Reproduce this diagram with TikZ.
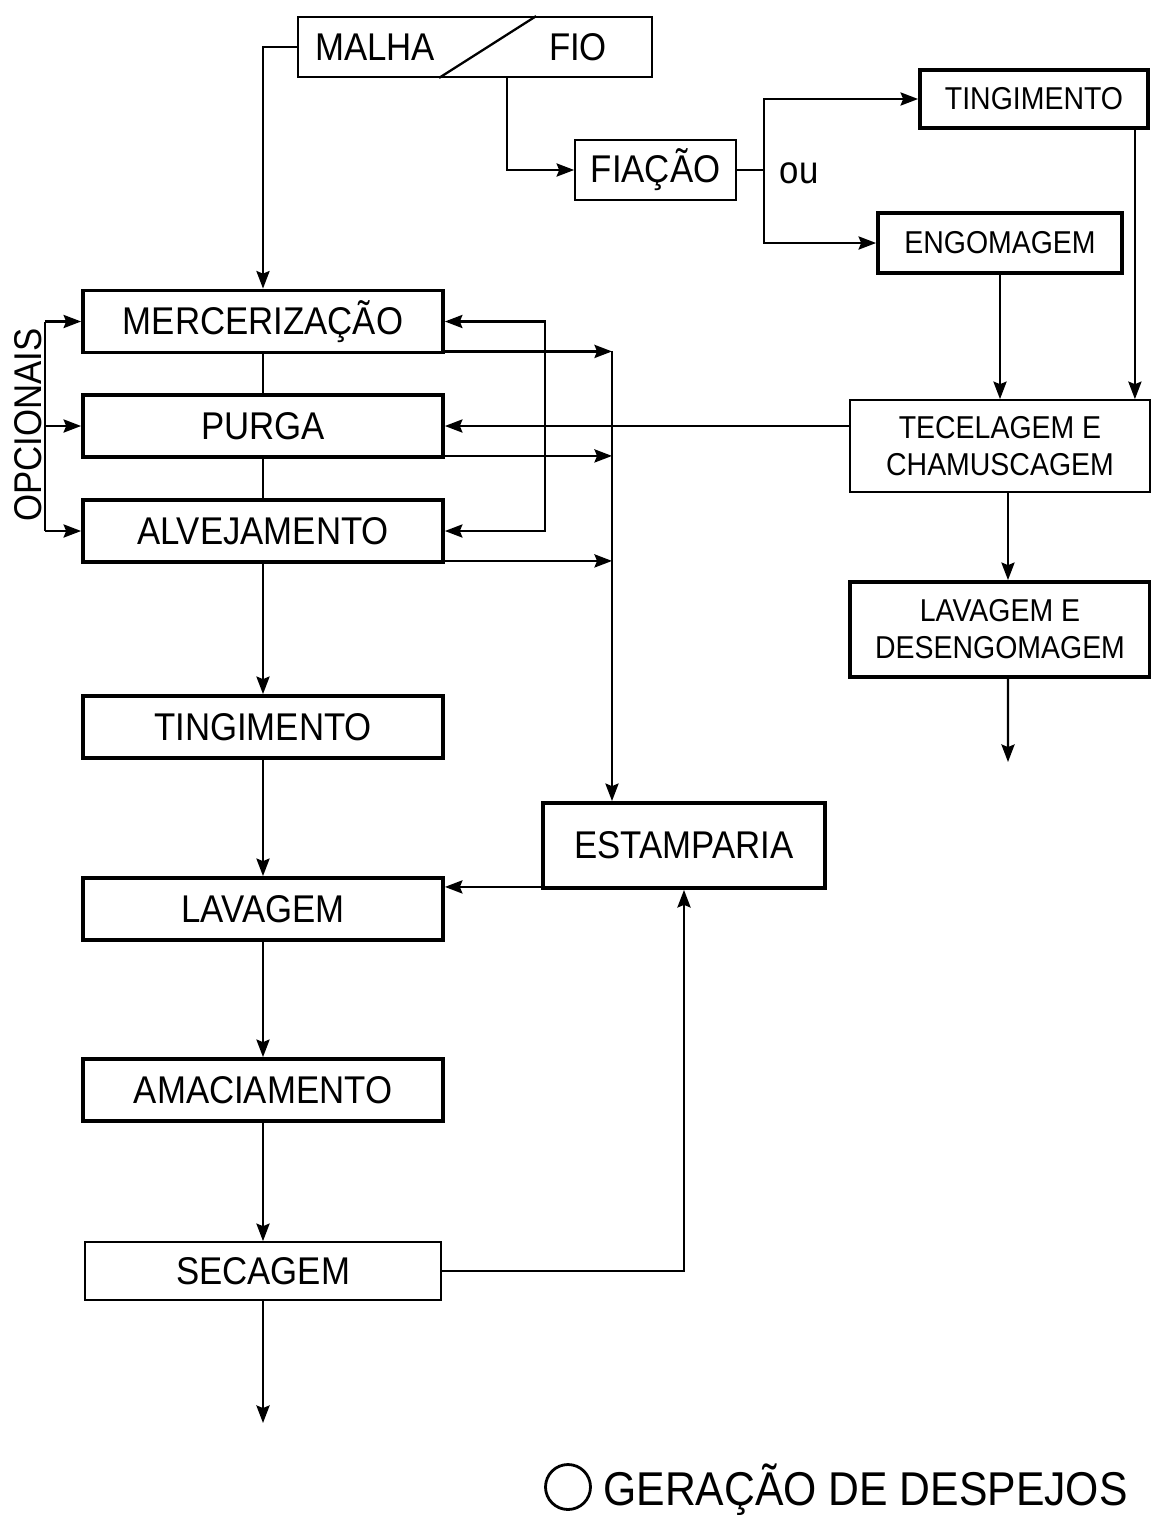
\documentclass[tikz,border=0pt]{standalone}
\usepackage{fontspec}
\setmainfont{Liberation Sans}[FakeStretch=0.9]
\usetikzlibrary{arrows.meta}
\begin{document}
\begin{tikzpicture}[x=0.02cm, y=-0.02cm,
  big/.style={font=\fontsize{22}{24}\selectfont},
  small/.style={font=\fontsize{18}{21}\selectfont, align=center},
  thickbox/.style={draw, line width=2.2pt, inner sep=0pt},
  thinbox/.style={draw, line width=1pt, inner sep=0pt},
  leftbox/.style={thickbox, big, minimum width=7.2cm, minimum height=1.24cm},
  conn/.style={line width=1.3pt},
  arr/.style={conn, -{Stealth[length=10pt,width=7.5pt,inset=1.5pt]}},
  arrboth/.style={conn, {Stealth[length=10pt,width=7.5pt,inset=1.5pt]}-{Stealth[length=10pt,width=7.5pt,inset=1.5pt]}}
]
\useasboundingbox (0,0) rectangle (1151,1515);

% raw material box split into knitted fabric / yarn
\node[thinbox, minimum width=7.08cm, minimum height=1.2cm] (malha) at (475,47) {};
\draw[line width=1.3pt] ([xshift=4.78cm]malha.north west) -- ([xshift=2.84cm]malha.south west);
\node[big] (tmalha) at (375,47) {MALHA};
\node[big] (tfio) at (578,47) {FIO};

% yarn route
\node[thinbox, big, minimum width=3.22cm, minimum height=1.2cm] (fiacao) at (655.5,170) {FIAÇÃO};
\node[thickbox, small, minimum width=4.56cm, minimum height=1.16cm] (tingR) at (1034,99) {TINGIMENTO};
\node[thickbox, small, minimum width=4.88cm, minimum height=1.2cm] (engom) at (1000,243) {ENGOMAGEM};
\node[thinbox, small, minimum width=6.0cm, minimum height=1.84cm] (tecel) at (1000,446) {TECELAGEM E\\CHAMUSCAGEM};
\node[thickbox, small, minimum width=6.0cm, minimum height=1.9cm] (lavdes) at (1000,629.5) {LAVAGEM E\\DESENGOMAGEM};
\node[big] (ou) at (799,173) {ou};

% main processing column
\node[leftbox] (merc) at (263,321.5) {MERCERIZAÇÃO};
\node[leftbox] (purga) at (263,426) {PURGA};
\node[leftbox] (alvej) at (263,531) {ALVEJAMENTO};
\node[leftbox] (tingL) at (263,727) {TINGIMENTO};
\node[leftbox] (lavag) at (263,909) {LAVAGEM};
\node[leftbox] (amac) at (263,1090) {AMACIAMENTO};
\node[thinbox, big, minimum width=7.12cm, minimum height=1.16cm] (secag) at (263,1271) {SECAGEM};
\node[thickbox, big, minimum width=5.64cm, minimum height=1.7cm] (estamp) at (684,845.5) {ESTAMPARIA};
\node[big, rotate=90] (opc) at (28,425) {OPCIONAIS};

% legend
\node[draw, circle, line width=1.6pt, minimum size=0.9cm, inner sep=0pt] (leg) at (568,1487) {};
\node[font=\fontsize{27}{30}\selectfont, anchor=west, inner sep=0pt] (legtxt) at (603,1490) {GERAÇÃO DE DESPEJOS};

% connectors: raw material
\draw[arr] (malha.west) -| (merc.north);
\draw[arr] ([xshift=4.2cm]malha.south west) |- (fiacao.west);
\coordinate (sp) at (764,170);
\draw[conn] (fiacao.east) -- (sp);
\draw[arr] (sp) |- (tingR.west);
\draw[arr] (sp) |- (engom.west);
\draw[arr] (engom.south) -- (engom.south |- tecel.north);
\coordinate (t1) at ([xshift=-0.3cm]tingR.south east);
\draw[arr] (t1) -- (t1 |- tecel.north);
\draw[arr] (tecel.west |- purga.east) -- (purga.east);
\draw[arr] ([xshift=0.16cm]tecel.south) -- ([xshift=0.16cm]lavdes.north);
\coordinate (endR) at (1008,762);
\draw[arr] ([xshift=0.16cm]lavdes.south) -- (endR);

% optional steps
\draw[conn] (merc.south) -- (purga.north);
\draw[conn] (purga.south) -- (alvej.north);
\coordinate (bl) at (45,0);
\draw[conn] (bl |- merc.west) -- (bl |- alvej.west);
\draw[arr] (bl |- merc.west) -- (merc.west);
\draw[arr] (bl |- purga.west) -- (purga.west);
\draw[arr] (bl |- alvej.west) -- (alvej.west);
\coordinate (rb) at (545,0);
\draw[arrboth] (merc.east) -- (rb |- merc.east) -- (rb |- alvej.east) -- (alvej.east);

% branches to printing
\coordinate (vx) at (612,0);
\coordinate (m1) at ([yshift=0.06cm]merc.south east);
\coordinate (p1) at ([yshift=0.06cm]purga.south east);
\coordinate (a1) at ([yshift=0.06cm]alvej.south east);
\draw[arr] (m1) -- (vx |- m1);
\draw[arr] (p1) -- (vx |- p1);
\draw[arr] (a1) -- (vx |- a1);
\draw[arr] (vx |- m1) -- (vx |- estamp.north);

% main sequence
\draw[arr] (alvej.south) -- (tingL.north);
\draw[arr] (tingL.south) -- (lavag.north);
\draw[arr] (lavag.south) -- (amac.north);
\draw[arr] (amac.south) -- (secag.north);
\coordinate (e1) at ([yshift=0.06cm]estamp.south west);
\draw[arr] (e1) -- (lavag.east |- e1);
\draw[arr] (secag.east) -| (estamp.south);
\coordinate (endL) at (263,1423);
\draw[arr] (secag.south) -- (endL);
\end{tikzpicture}
\end{document}
